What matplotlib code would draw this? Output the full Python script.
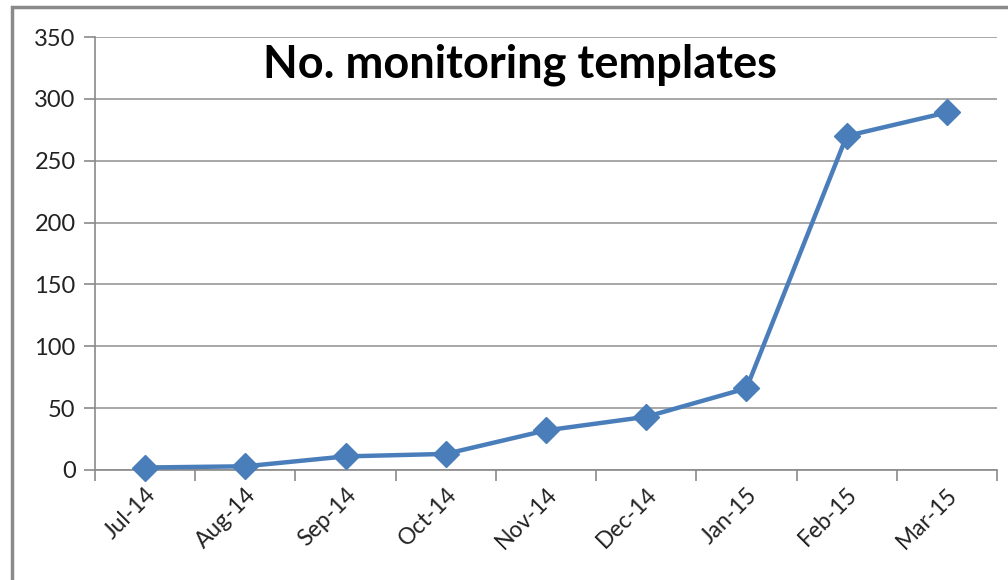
import matplotlib.pyplot as plt
from matplotlib.patches import Rectangle

# data
months = ['Jul-14', 'Aug-14', 'Sep-14', 'Oct-14', 'Nov-14', 'Dec-14', 'Jan-15', 'Feb-15', 'Mar-15']
templates = [2, 3, 11, 13, 32, 43, 66, 270, 289]
y_ticks = [0, 50, 100, 150, 200, 250, 300, 350]

W, H = 1008, 580
fig = plt.figure(figsize=(W / 100, H / 100), dpi=100)
plt.rcParams['font.family'] = ['Lato', 'DejaVu Sans']

# outer chart border (only left and top visible in the reference)
fig.patches.append(Rectangle((12 / W, -0.1), 1.2, 1 - 7 / H + 0.1, transform=fig.transFigure,
                             fill=False, edgecolor='#8a8a8a', linewidth=2.5))

ax = fig.add_axes([95 / W, 1 - 470 / H, (997 - 95) / W, (470 - 37) / H])
x = list(range(len(months)))
ax.plot(x, templates, color='#4a7ebb', linewidth=3.2, marker='D', markersize=13,
        markeredgecolor='#4a7ebb', zorder=3, clip_on=False)

ax.set_xlim(-0.5, len(months) - 0.5)
ax.set_ylim(0, 350)
ax.set_yticks(y_ticks)
ax.yaxis.grid(True, color='#a0a0a0', linewidth=1.3)
ax.set_axisbelow(True)

# x ticks sit between categories, labels at category centres
ax.set_xticks([i - 0.5 for i in range(len(months) + 1)], minor=False)
ax.set_xticklabels([])
ax.set_xticks(x, minor=True)
ax.set_xticklabels(months, minor=True, rotation=45, ha='right', va='top',
                   rotation_mode='anchor', fontsize=16.5, color='#222222')
ax.tick_params(axis='x', which='minor', length=0, pad=10)
ax.tick_params(axis='x', which='major', length=8, width=1.2, color='#8a8a8a')
ax.tick_params(axis='y', length=8, width=1.2, color='#8a8a8a', labelsize=17,
               labelcolor='#222222', pad=6)

for s in ['top', 'right']:
    ax.spines[s].set_visible(False)
for s in ['left', 'bottom']:
    ax.spines[s].set_color('#8a8a8a')
    ax.spines[s].set_linewidth(1.2)

fig.text(520 / W, 1 - 77 / H, 'No. monitoring templates', ha='center', va='baseline',
         fontsize=32.5, fontweight='bold', color='black')

fig.savefig('out.png', dpi=100)
